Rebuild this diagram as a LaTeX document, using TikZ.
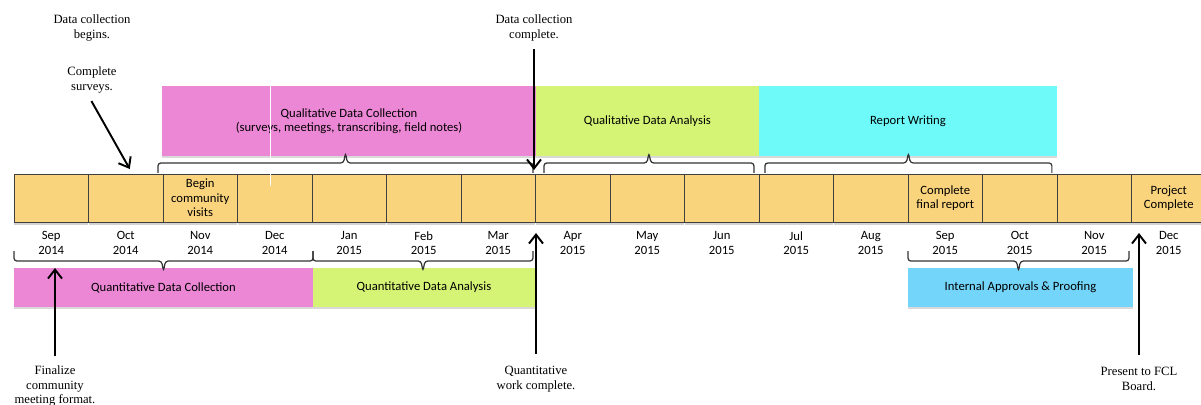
\documentclass[tikz,border=0pt]{standalone}
\usepackage{fontspec}
\setmainfont{Liberation Serif}
\setsansfont{Carlito}
\usepackage{tikz}
\usetikzlibrary{
  arrows.meta, positioning, calc, shadows
}
\usepackage{xcolor}
\definecolor{barfill}{RGB}{250,211,125}
\definecolor{qualpink}{RGB}{236,135,214}
\definecolor{anagreen}{RGB}{213,244,118}
\definecolor{repcyan}{RGB}{111,250,250}
\definecolor{appblue}{RGB}{116,213,250}

\begin{document}
\begin{tikzpicture}[x=0.02cm, y=-0.02cm,
  font=\sffamily\fontsize{7.2}{8.3}\selectfont,
  cell/.style={draw=black!75, fill=barfill, minimum width=1.49cm,
    minimum height=0.96cm, inner sep=0pt, outer sep=0pt,
    drop shadow={opacity=0.35, shadow xshift=0pt, shadow yshift=-0.07cm}},
  phase/.style={fill=#1, minimum height=1.4cm, inner sep=0pt, outer sep=0pt,
    align=center,
    drop shadow={opacity=0.3, shadow xshift=0pt, shadow yshift=-0.05cm}},
  month/.style={align=center, inner sep=1pt},
  celltext/.style={align=center, inner sep=1pt},
  note/.style={font=\rmfamily\fontsize{7.2}{8.5}\selectfont, align=center, inner sep=1pt},
  mark arrow/.style={-{Straight Barb[length=0.18cm, width=0.28cm]}, line width=1.1pt},
  bracket/.style={draw=black!80, line width=0.7pt, rounded corners=1.6pt,
    to path={|- ($(\tikztostart)!0.5!(\tikztotarget)+(-2,#1)$)
      -- ($(\tikztostart)!0.5!(\tikztotarget)+2*(0,#1)$)
      -- ($(\tikztostart)!0.5!(\tikztotarget)+(2,#1)$) -| (\tikztotarget)}}]
\useasboundingbox (0,0) rectangle (1201,405);

% months along the bar
\foreach \m/\y [count=\i] in {Sep/2014, Oct/2014, Nov/2014, Dec/2014,
    Jan/2015, Feb/2015, Mar/2015, Apr/2015, May/2015, Jun/2015,
    Jul/2015, Aug/2015, Sep/2015, Oct/2015, Nov/2015, Dec/2015} {
  \node[cell] (c\i) at ({14+74.5*(\i-0.5)},198) {};
  \node[month, below=0.15cm of c\i] (m\i) {\m\\\y};
}
\node[celltext] (t3) at (c3) {Begin\\community\\visits};
\node[celltext] (t13) at (c13) {Complete\\final report};
\node[celltext] (t16) at (c16) {Project\\Complete};

% qualitative phases
\node[phase=qualpink, minimum width=7.48cm] (qualcoll) at (349,121)
  {Qualitative Data Collection\\(surveys, meetings, transcribing, field notes)};
\node[phase=anagreen, minimum width=4.46cm, right=0pt of qualcoll] (qualana)
  {Qualitative Data Analysis};
\node[phase=repcyan, minimum width=5.96cm, right=0pt of qualana] (report)
  {Report Writing};
\draw[white, line width=0.5pt] ([xshift=2.16cm]qualcoll.north west) -- ++(0,100);

% quantitative phases
\node[phase=qualpink, minimum width=5.98cm, minimum height=0.78cm] (quantcoll)
  at (163.5,287.5) {Quantitative Data Collection};
\node[phase=anagreen, minimum width=4.44cm, minimum height=0.78cm,
  right=0pt of quantcoll] (quantana) {Quantitative Data Analysis};
\node[phase=appblue, minimum width=4.5cm, minimum height=0.78cm] (approve)
  at (1020.5,287.5) {Internal Approvals \& Proofing};

% brackets
\draw[bracket=-10] ([xshift=-0.08cm, yshift=-0.34cm]qualcoll.south west)
  to ([xshift=-0.06cm, yshift=-0.34cm]qualcoll.south east);
\draw[bracket=-10] ([xshift=0.16cm, yshift=-0.34cm]qualana.south west)
  to ([xshift=-0.1cm, yshift=-0.34cm]qualana.south east);
\draw[bracket=-10] ([xshift=0.12cm, yshift=-0.34cm]report.south west)
  to ([xshift=-0.1cm, yshift=-0.34cm]report.south east);
\draw[bracket=10] ([yshift=0.34cm]quantcoll.north west)
  to ([yshift=0.34cm]quantcoll.north east);
\draw[bracket=10] ([yshift=0.34cm]quantana.north west)
  to ([xshift=-0.04cm, yshift=0.34cm]quantana.north east);
\draw[bracket=10] ([yshift=0.34cm]approve.north west)
  to ([xshift=-0.08cm, yshift=0.34cm]approve.north east);

% milestones
\node[note] (dcb) at (92,28) {Data collection\\begins.};
\node[note, below=0.42cm of dcb] (cs) {Complete\\surveys.};
\node[note] (dcc) at (534,28) {Data collection\\complete.};
\node[note] (fin) at (55,386) {Finalize\\community\\meeting format.};
\node[note] (qwc) at (536,379) {Quantitative\\work complete.};
\node[note] (pfb) at (1139,379) {Present to FCL\\Board.};

\draw[mark arrow, shorten <=0.14cm] ([xshift=-0.08cm]cs.south)
  -- ([xshift=0.08cm, yshift=0.1cm]c2.north);
\draw[mark arrow, shorten <=0.12cm, shorten >=0.08cm] (dcc.south) -- (dcc.south |- c8.north);
\draw[mark arrow, shorten <=0.14cm] (fin.north) -- (fin.north |- quantcoll.north);
\draw[mark arrow, shorten <=0.2cm, shorten >=0.22cm] (qwc.north) -- (qwc.north |- c8.south);
\draw[mark arrow, shorten <=0.2cm, shorten >=0.22cm] (pfb.north) -- (pfb.north |- c16.south);
\end{tikzpicture}
\end{document}
